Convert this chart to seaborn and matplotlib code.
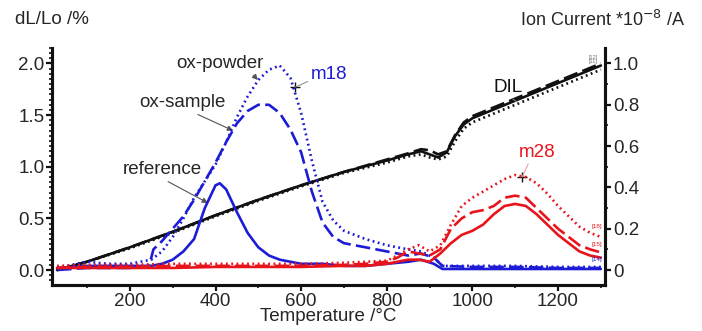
import numpy as np
import pandas as pd
import matplotlib
matplotlib.use("Agg")
import matplotlib.pyplot as plt
from matplotlib.ticker import MultipleLocator
import seaborn as sns

# ---- data ----
# DIL curves (left axis, dL/Lo %)
dil_t = [30, 100, 200, 300, 400, 500, 600, 700, 800, 850, 880, 900, 920, 940, 960, 980, 1000, 1100, 1200, 1300]
dil_ref = [0.0, 0.08, 0.22, 0.37, 0.53, 0.68, 0.82, 0.95, 1.06, 1.12, 1.15, 1.12, 1.09, 1.14, 1.30, 1.41, 1.47, 1.64, 1.81, 1.98]
dil_sample = [0.0, 0.08, 0.22, 0.37, 0.53, 0.68, 0.82, 0.95, 1.07, 1.13, 1.17, 1.16, 1.12, 1.15, 1.31, 1.43, 1.49, 1.66, 1.83, 2.0]
dil_powder = [0.0, 0.08, 0.21, 0.36, 0.52, 0.67, 0.81, 0.94, 1.04, 1.10, 1.12, 1.09, 1.07, 1.10, 1.25, 1.37, 1.43, 1.60, 1.77, 1.94]

# m18 curves (right axis, ion current)
m18_t = [30, 100, 150, 200, 250, 275, 300, 325, 350, 375, 400, 425, 450, 475, 500, 525, 550, 575,
         600, 625, 650, 675, 700, 750, 800, 850, 880, 910, 930, 1000, 1100, 1200, 1300]
m18_powder = [0.01, 0.04, 0.03, 0.03, 0.05, 0.09, 0.16, 0.25, 0.35, 0.43, 0.51, 0.62, 0.74, 0.84, 0.92, 0.97, 0.99, 0.93,
              0.76, 0.53, 0.33, 0.24, 0.19, 0.15, 0.12, 0.10, 0.09, 0.06, 0.02, 0.02, 0.02, 0.015, 0.015]

m18_sample_t = [30, 100, 150, 200, 245, 255, 275, 300, 325, 350, 375, 400, 425, 450, 475, 500, 525, 550, 575,
                600, 625, 650, 675, 700, 750, 800, 850, 880, 910, 930, 1000, 1100, 1200, 1300]
m18_sample = [0.0, 0.01, 0.01, 0.01, 0.02, 0.10, 0.14, 0.20, 0.26, 0.34, 0.43, 0.52, 0.62, 0.71, 0.77, 0.80, 0.80, 0.76, 0.68,
              0.57, 0.38, 0.23, 0.16, 0.13, 0.11, 0.09, 0.07, 0.08, 0.06, 0.02, 0.015, 0.015, 0.01, 0.01]

m18_ref_t = [30, 100, 150, 200, 250, 275, 300, 325, 350, 375, 400, 410, 425, 450, 475, 500, 525, 550, 575,
             600, 650, 700, 750, 800, 850, 880, 910, 930, 1000, 1300]
m18_ref = [0.01, 0.02, 0.02, 0.02, 0.02, 0.03, 0.05, 0.09, 0.15, 0.30, 0.41, 0.42, 0.39, 0.28, 0.18, 0.11, 0.07, 0.05, 0.04,
           0.03, 0.03, 0.02, 0.02, 0.03, 0.04, 0.05, 0.03, 0.005, 0.005, 0.005]

# m28 curves (right axis, ion current)
m28_t = [30, 100, 200, 300, 400, 500, 600, 700, 750, 800, 825, 850, 875, 900, 925, 950, 975, 1000,
         1025, 1050, 1075, 1100, 1125, 1150, 1175, 1200, 1225, 1250, 1275, 1300]
m28_powder = [0.02, 0.025, 0.025, 0.03, 0.03, 0.03, 0.03, 0.035, 0.04, 0.045, 0.07, 0.10, 0.12, 0.09, 0.12, 0.22, 0.31, 0.35,
              0.38, 0.41, 0.44, 0.46, 0.45, 0.42, 0.37, 0.31, 0.26, 0.21, 0.18, 0.16]
m28_sample = [0.01, 0.015, 0.015, 0.02, 0.02, 0.02, 0.02, 0.025, 0.03, 0.04, 0.06, 0.09, 0.08, 0.07, 0.10, 0.20, 0.25, 0.28,
              0.29, 0.31, 0.35, 0.36, 0.35, 0.30, 0.25, 0.20, 0.16, 0.12, 0.10, 0.085]
m28_ref = [0.01, 0.01, 0.01, 0.01, 0.015, 0.015, 0.015, 0.02, 0.02, 0.03, 0.04, 0.05, 0.05, 0.04, 0.08, 0.13, 0.17, 0.19,
           0.22, 0.27, 0.31, 0.32, 0.31, 0.27, 0.22, 0.17, 0.13, 0.09, 0.07, 0.06]

left_ticks = [0.0, 0.5, 1.0, 1.5, 2.0]
right_ticks = [0, 0.2, 0.4, 0.6, 0.8, 1.0]
right_tick_labels = ["0", "0.2", "0.4", "0.6", "0.8", "1.0"]
x_ticks = [200, 400, 600, 800, 1000, 1200]

# ---- style ----
sns.set_style("ticks")
plt.rcParams["font.family"] = ["Liberation Sans", "DejaVu Sans"]

BLUE = "#1c1cd6"
RED = "#e8141c"
BLACK = "#111111"
lw = 1.9
dot = (0.7, 1.3)
dash = (5.5, 2.0)
FS = 13.5

fig = plt.figure(figsize=(7.02, 3.31), dpi=100)
ax = fig.add_axes([0.074, 0.139, 0.788, 0.716])
ax2 = ax.twinx()

# DIL
sns.lineplot(x=dil_t, y=dil_powder, ax=ax, color=BLACK, lw=lw, linestyle=(0, dot))
sns.lineplot(x=dil_t, y=dil_sample, ax=ax, color=BLACK, lw=lw, linestyle=(0, dash))
sns.lineplot(x=dil_t, y=dil_ref, ax=ax, color=BLACK, lw=lw)

# m18
sns.lineplot(x=m18_t, y=m18_powder, ax=ax2, color=BLUE, lw=lw, linestyle=(0, dot))
sns.lineplot(x=m18_sample_t, y=m18_sample, ax=ax2, color=BLUE, lw=lw, linestyle=(0, dash))
sns.lineplot(x=m18_ref_t, y=m18_ref, ax=ax2, color=BLUE, lw=lw)

# m28
sns.lineplot(x=m28_t, y=m28_powder, ax=ax2, color=RED, lw=lw, linestyle=(0, dot))
sns.lineplot(x=m28_t, y=m28_sample, ax=ax2, color=RED, lw=lw, linestyle=(0, dash))
sns.lineplot(x=m28_t, y=m28_ref, ax=ax2, color=RED, lw=lw)

# ---- axes ----
ax.set_xlim(18, 1310)
ax.set_ylim(-0.145, 2.15)
ax2.set_ylim(-0.0725, 1.075)

ax.set_xticks(x_ticks)
ax.xaxis.set_minor_locator(MultipleLocator(100))
ax.set_yticks(left_ticks)
ax.set_yticklabels([f"{v:.1f}" for v in left_ticks])
ax.yaxis.set_minor_locator(MultipleLocator(0.05))
ax2.set_yticks(right_ticks)
ax2.set_yticklabels(right_tick_labels)
ax2.yaxis.set_minor_locator(MultipleLocator(0.1))

for a in (ax, ax2):
    a.tick_params(axis="both", which="major", labelsize=FS, width=1.6, length=4, color=BLACK, pad=1.5)
    a.tick_params(axis="both", which="minor", width=1.2, length=2.5, color=BLACK)
    a.spines["top"].set_visible(False)
    for s in ("left", "bottom", "right"):
        a.spines[s].set_linewidth(2.2)
        a.spines[s].set_color(BLACK)

ax.set_xlabel("Temperature /°C", fontsize=FS, labelpad=-1)
ax.set_ylabel("")
ax2.set_ylabel("")

fig.text(0.021, 0.94, "dL/Lo /%", fontsize=FS, ha="left", va="center")
fig.text(0.976, 0.94, "Ion Current *10$^{\\mathsf{-8}}$ /A", fontsize=13, ha="right", va="center")

# ---- annotations (left axis data coords) ----
arrow = dict(arrowstyle="-|>", color="#555555", lw=0.8, mutation_scale=8, shrinkA=0, shrinkB=0)
ax.annotate("ox-powder", xy=(499, 1.84), xytext=(410, 2.0), fontsize=FS, ha="center", va="center",
            arrowprops=dict(arrow, relpos=(0.85, 0.0)))
ax.annotate("ox-sample", xy=(441, 1.35), xytext=(322, 1.62), fontsize=FS, ha="center", va="center",
            arrowprops=dict(arrow, relpos=(0.6, 0.0)))
ax.annotate("reference", xy=(382, 0.65), xytext=(275, 0.97), fontsize=FS, ha="center", va="center",
            arrowprops=dict(arrow, relpos=(0.5, 0.0)))

line = dict(arrowstyle="-", color="#888888", lw=0.7, shrinkA=0, shrinkB=0)
ax.annotate("m18", xy=(586, 1.77), xytext=(666, 1.89), fontsize=FS, color=BLUE, ha="center", va="center",
            arrowprops=dict(line, relpos=(0.0, 0.2)))
ax.plot([586], [1.77], marker="+", color=BLACK, ms=7, mew=1.0)
ax.annotate("DIL", xy=(1107, 1.62), xytext=(1083, 1.77), fontsize=FS, color=BLACK, ha="center", va="center",
            arrowprops=dict(line, relpos=(0.5, 0.0)))
ax.annotate("m28", xy=(1116, 0.90), xytext=(1151, 1.14), fontsize=FS, color=RED, ha="center", va="center",
            arrowprops=dict(line, color="#e89090", relpos=(0.3, 0.0)))
ax.plot([1116], [0.90], marker="+", color=BLACK, ms=7, mew=1.0)

# tiny curve tags at the right end
ax2.text(1290, 0.21, "[18]", fontsize=4.5, color=RED, ha="center", va="center")
ax2.text(1290, 0.125, "[15]", fontsize=4.5, color=RED, ha="center", va="center")
ax2.text(1290, 0.05, "[14]", fontsize=4.5, color=BLUE, ha="center", va="center")
ax2.text(1282, 1.02, "[12]\n[11]", fontsize=4, color="#777777", ha="center", va="center", linespacing=0.8)

fig.savefig("out.png", dpi=100)
